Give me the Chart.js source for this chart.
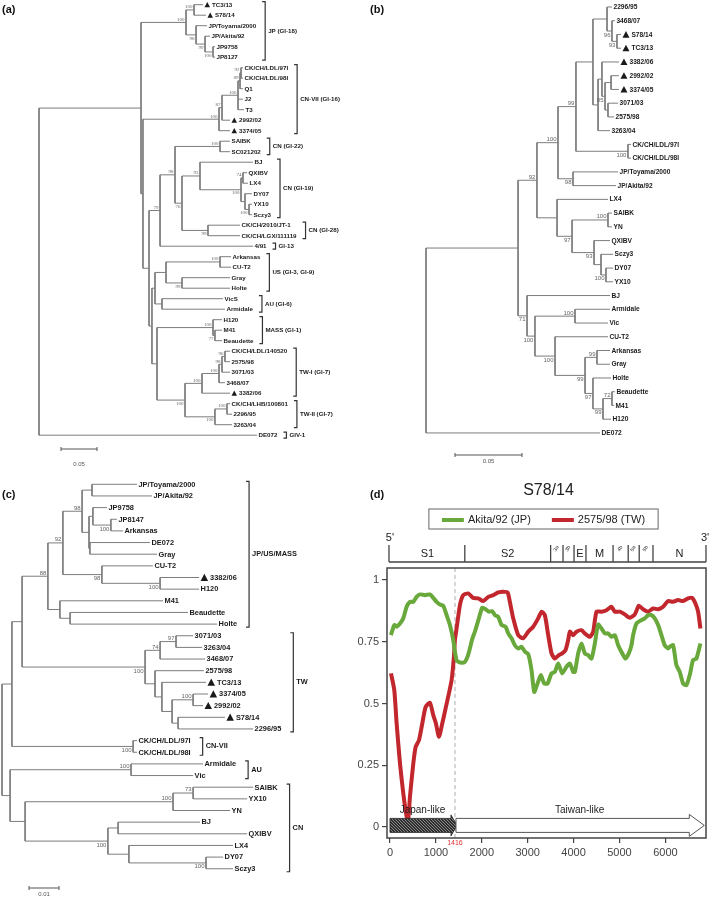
<!DOCTYPE html>
<html>
<head>
<meta charset="utf-8">
<script src="https://cdn.jsdelivr.net/npm/chart.js@4.4.1/dist/chart.umd.min.js"></script>
<style>
  body { margin: 0; background: #fff; width: 709px; height: 897px; position: relative; overflow: hidden; }
  canvas { position: absolute; }
</style>
</head>
<body>
<canvas id="treeA" width="355" height="470" style="left:0;top:0"></canvas>
<canvas id="treeB" width="354" height="470" style="left:355px;top:0"></canvas>
<canvas id="treeC" width="355" height="427" style="left:0;top:470px"></canvas>
<canvas id="simPlot" width="354" height="427" style="left:355px;top:470px"></canvas>
<script>
// ---- tree (a): whole genome / S1 tree, tips top to bottom ----
const treeA_tips = ['TC3/13', 'S78/14', 'JP/Toyama/2000', 'JP/Akita/92', 'JP9758', 'JP8127',
  'CK/CH/LDL/97I', 'CK/CH/LDL/98I', 'Q1', 'J2', 'T3', '2992/02', '3374/05', 'SAIBK', 'SC021202',
  'BJ', 'QXIBV', 'LX4', 'DY07', 'YX10', 'Sczy3', 'CK/CH/2010/JT-1', 'CK/CH/LGX/111119', '4/91',
  'Arkansas', 'CU-T2', 'Gray', 'Holte', 'VicS', 'Armidale', 'H120', 'M41', 'Beaudette',
  'CK/CH/LDL/140520', '2575/98', '3071/03', '3468/07', '3382/06', 'CK/CH/LHB/100801', '2296/95',
  '3263/04', 'DE072'];
const treeA_tipDepth = [0.2278, 0.2319, 0.2333, 0.2375, 0.2444, 0.2444, 0.2833, 0.2833, 0.2833, 0.2833,
  0.2847, 0.2653, 0.2653, 0.2653, 0.2653, 0.2972, 0.2889, 0.2903, 0.2958, 0.2958, 0.2958, 0.2792,
  0.2792, 0.2972, 0.2667, 0.2667, 0.2653, 0.2653, 0.2556, 0.2583, 0.2542, 0.2542, 0.2542, 0.2653,
  0.2653, 0.2653, 0.2583, 0.2653, 0.2653, 0.2681, 0.2681, 0.3028];
const treeA_tipParent = [3, 3, 4, 5, 6, 6, 12, 12, 11, 10, 10, 9, 8, 16, 16, 18, 20, 20, 21, 22, 22, 23,
  23, 14, 27, 27, 28, 28, 29, 29, 31, 32, 32, 37, 37, 36, 35, 34, 39, 39, 38, 0];
const treeA_nodeDepth = [0, 0.1417, 0.2042, 0.2153, 0.2181, 0.2306, 0.2417, 0.1444, 0.25, 0.2542, 0.2764,
  0.2792, 0.2806, 0.1528, 0.1681, 0.1889, 0.2514, 0.1986, 0.2236, 0.2806, 0.2833, 0.2861, 0.2917,
  0.2347, 0.1569, 0.1611, 0.1764, 0.2514, 0.1986, 0.1708, 0.1639, 0.2417, 0.2444, 0.2028, 0.2264,
  0.25, 0.2542, 0.2583, 0.2444, 0.2611];
const treeA_nodeParent = [-1, 0, 1, 2, 2, 4, 5, 1, 7, 8, 9, 10, 11, 7, 13, 14, 15, 15, 17, 18, 19, 19, 21,
  17, 13, 24, 25, 26, 26, 25, 24, 30, 31, 30, 33, 34, 35, 36, 33, 38];
const treeA_support = ['', '', '100', '100', '98', '99', '100', '', '100', '87', '100', '89', '92', '',
  '79', '98', '100', '76', '93', '100', '74', '', '100', '99', '', '', '', '100', '99', '', '', '100',
  '77', '100', '100', '100', '98', '96', '100', '100'];
const treeA_groups = [['JP (GI-18)', 0, 5], ['CN-VII (GI-16)', 6, 12], ['CN (GI-22)', 13, 14],
  ['CN (GI-19)', 15, 20], ['CN (GI-28)', 21, 22], ['GI-13', 23, 23], ['US (GI-3, GI-9)', 24, 27],
  ['AU (GI-6)', 28, 29], ['MASS (GI-1)', 30, 32], ['TW-I (GI-7)', 33, 37], ['TW-II (GI-7)', 38, 40],
  ['GIV-1', 41, 41]];

// ---- tree (b) ----
const treeB_tips = ['2296/95', '3468/07', 'S78/14', 'TC3/13', '3382/06', '2992/02', '3374/05', '3071/03',
  '2575/98', '3263/04', 'CK/CH/LDL/97I', 'CK/CH/LDL/98I', 'JP/Toyama/2000', 'JP/Akita/92', 'LX4',
  'SAIBK', 'YN', 'QXIBV', 'Sczy3', 'DY07', 'YX10', 'BJ', 'Armidale', 'Vic', 'CU-T2', 'Arkansas',
  'Gray', 'Holte', 'Beaudette', 'M41', 'H120', 'DE072'];
const treeB_tipDepth = [0.1388, 0.1410, 0.1455, 0.1455, 0.1440, 0.1440, 0.1440, 0.1433, 0.1403, 0.1373,
  0.1530, 0.1530, 0.1433, 0.1418, 0.1358, 0.1388, 0.1388, 0.1373, 0.1396, 0.1396, 0.1396, 0.1373,
  0.1373, 0.1358, 0.1358, 0.1373, 0.1373, 0.1381, 0.1410, 0.1403, 0.1381, 0.1299];
const treeB_tipParent = [6, 7, 8, 8, 10, 12, 12, 13, 13, 9, 14, 14, 15, 15, 16, 18, 18, 19, 20, 21, 21,
  22, 24, 24, 25, 27, 27, 28, 30, 30, 29, 0];
const treeB_nodeDepth = [0, 0.0687, 0.0828, 0.0985, 0.1119, 0.1246, 0.1351, 0.1388, 0.1425, 0.1284,
  0.1313, 0.1336, 0.1381, 0.1358, 0.1507, 0.1097, 0.0978, 0.1090, 0.1358, 0.1254, 0.1306, 0.1343,
  0.0754, 0.0813, 0.1112, 0.0963, 0.1187, 0.1276, 0.1246, 0.1321, 0.1388];
const treeB_nodeParent = [-1, 0, 1, 2, 3, 4, 5, 6, 7, 5, 9, 10, 11, 11, 4, 3, 2, 16, 17, 17, 19, 20, 1,
  22, 23, 23, 25, 26, 26, 28, 29];
const treeB_support = ['', '', '92', '100', '99', '', '', '96', '93', '', '', '85', '', '', '100', '98',
  '', '97', '100', '93', '', '100', '71', '100', '100', '100', '99', '99', '97', '99', '72'];

// ---- tree (c) ----
const treeC_tips = ['JP/Toyama/2000', 'JP/Akita/92', 'JP9758', 'JP8147', 'Arkansas', 'DE072', 'Gray',
  'CU-T2', '3382/06', 'H120', 'M41', 'Beaudette', 'Holte', '3071/03', '3263/04', '3468/07', '2575/98',
  'TC3/13', '3374/05', '2992/02', 'S78/14', '2296/95', 'CK/CH/LDL/97I', 'CK/CH/LDL/98I', 'Armidale',
  'Vic', 'SAIBK', 'YX10', 'YN', 'BJ', 'QXIBV', 'LX4', 'DY07', 'Sczy3'];
const treeC_tipDepth = [0.0450, 0.0500, 0.0350, 0.0383, 0.0403, 0.0493, 0.0517, 0.0503, 0.0657, 0.0657,
  0.0537, 0.0620, 0.0717, 0.0637, 0.0667, 0.0677, 0.0673, 0.0680, 0.0687, 0.0670, 0.0743, 0.0837,
  0.0450, 0.0450, 0.0670, 0.0637, 0.0837, 0.0817, 0.0760, 0.0660, 0.0817, 0.0770, 0.0737, 0.0770];
const treeC_tipParent = [6, 6, 8, 9, 9, 10, 10, 11, 12, 12, 13, 14, 14, 17, 17, 16, 18, 19, 21, 21, 22,
  22, 23, 23, 25, 25, 28, 28, 27, 30, 30, 31, 32, 32];
const treeC_nodeDepth = [0, 0.0033, 0.0067, 0.0153, 0.0203, 0.0267, 0.0300, 0.0290, 0.0303, 0.0363,
  0.0293, 0.0333, 0.0527, 0.0193, 0.0227, 0.0477, 0.0527, 0.0580, 0.0510, 0.0533, 0.0567, 0.0637,
  0.0587, 0.0437, 0.0027, 0.0430, 0.0077, 0.0570, 0.0637, 0.0353, 0.0387, 0.0423, 0.0680];
const treeC_nodeParent = [-1, 0, 1, 2, 3, 4, 5, 5, 7, 8, 7, 4, 11, 3, 13, 2, 15, 16, 15, 18, 19, 20, 20,
  1, 0, 24, 24, 26, 27, 26, 29, 29, 31];
const treeC_support = ['', '', '', '88', '92', '98', '', '', '', '100', '', '98', '100', '', '', '100',
  '74', '97', '', '', '', '100', '', '100', '', '100', '', '100', '73', '100', '', '', '100'];
const treeC_groups = [['JP/US/MASS', 0, 12], ['TW', 13, 21], ['CN-VII', 22, 23], ['AU', 24, 25],
  ['CN', 26, 33]];

const markedStrains = ['TC3/13', 'S78/14', '2992/02', '3374/05', '3382/06'];

// ---- (d) similarity plot of S78/14 ----
const akitaPos = [20, 94, 145, 218, 290, 363, 435, 508, 580, 653, 762, 871, 943, 1016, 1089, 1161, 1234,
  1306, 1379, 1415, 1451, 1488, 1560, 1633, 1690, 1741, 1790, 1850, 1937, 2010, 2083, 2155, 2228, 2286,
  2358, 2431, 2518, 2576, 2649, 2721, 2794, 2866, 2939, 3012, 3084, 3142, 3215, 3287, 3360, 3433, 3520,
  3592, 3665, 3752, 3846, 3919, 3991, 4028, 4100, 4173, 4245, 4318, 4391, 4463, 4536, 4608, 4681, 4753,
  4826, 4898, 4971, 5044, 5131, 5203, 5261, 5297, 5370, 5479, 5552, 5624, 5697, 5769, 5842, 5914, 5987,
  6059, 6096, 6168, 6241, 6313, 6386, 6458, 6531, 6603, 6676, 6763];
const akitaSim = [0.777, 0.818, 0.811, 0.824, 0.845, 0.892, 0.912, 0.912, 0.932, 0.942, 0.939, 0.942,
  0.928, 0.912, 0.901, 0.896, 0.858, 0.818, 0.757, 0.709, 0.676, 0.669, 0.665, 0.669, 0.69, 0.723, 0.76,
  0.791, 0.845, 0.888, 0.882, 0.872, 0.874, 0.858, 0.851, 0.818, 0.811, 0.784, 0.764, 0.736, 0.723, 0.73,
  0.71, 0.70, 0.635, 0.547, 0.581, 0.615, 0.581, 0.581, 0.622, 0.628, 0.662, 0.622, 0.649, 0.662, 0.628,
  0.628, 0.703, 0.743, 0.703, 0.696, 0.682, 0.743, 0.820, 0.804, 0.784, 0.784, 0.770, 0.777, 0.736,
  0.709, 0.682, 0.703, 0.736, 0.777, 0.824, 0.838, 0.845, 0.858, 0.858, 0.845, 0.818, 0.777, 0.736,
  0.723, 0.730, 0.736, 0.655, 0.628, 0.581, 0.574, 0.615, 0.676, 0.682, 0.743];
const twPos = [22, 94, 145, 218, 290, 363, 399, 435, 508, 559, 631, 704, 776, 871, 943, 1001, 1067, 1139,
  1212, 1284, 1343, 1393, 1415, 1451, 1524, 1596, 1705, 1814, 1923, 2032, 2141, 2250, 2358, 2467, 2562,
  2612, 2685, 2794, 2903, 3012, 3120, 3229, 3302, 3374, 3447, 3520, 3592, 3680, 3752, 3824, 3882, 3919,
  3991, 4064, 4173, 4245, 4354, 4427, 4499, 4608, 4717, 4826, 4898, 5007, 5116, 5225, 5334, 5421, 5515,
  5624, 5733, 5842, 5951, 6059, 6168, 6277, 6386, 6495, 6582, 6655, 6713, 6763];
const twSim = [0.622, 0.554, 0.419, 0.257, 0.135, 0.041, 0.034, 0.122, 0.257, 0.324, 0.351, 0.419, 0.486,
  0.503, 0.453, 0.419, 0.365, 0.419, 0.480, 0.541, 0.595, 0.689, 0.757, 0.804, 0.899, 0.939, 0.946,
  0.928, 0.926, 0.915, 0.932, 0.939, 0.950, 0.953, 0.950, 0.912, 0.845, 0.777, 0.764, 0.791, 0.811,
  0.845, 0.872, 0.858, 0.777, 0.703, 0.682, 0.696, 0.703, 0.716, 0.757, 0.791, 0.777, 0.791, 0.797,
  0.784, 0.770, 0.791, 0.872, 0.872, 0.878, 0.892, 0.872, 0.872, 0.861, 0.847, 0.861, 0.896, 0.882,
  0.872, 0.885, 0.882, 0.892, 0.915, 0.912, 0.919, 0.915, 0.926, 0.928, 0.905, 0.872, 0.804];
const xTicks = [0, 1000, 2000, 3000, 4000, 5000, 6000];
const yTicks = [0, 0.25, 0.5, 0.75, 1];
const genes = ['S1', 'S2', '3a', '3b', 'E', 'M', '4b', '5a', '5b', 'N'];
const geneStart = [0, 1630, 3500, 3770, 4010, 4270, 4860, 5190, 5430, 5730];
const genomeEnd = 6885;
const breakpoint = 1416;
const regionNames = ['Japan-like', 'Taiwan-like'];
const regionStart = [0, 1416];
const regionEnd = [1416, 6848];

const FONT = '"Liberation Sans", Arial, sans-serif';
Chart.defaults.font.family = FONT;

function buildTree(tipDepth, tipParent, nodeDepth, nodeParent) {
  const kids = nodeDepth.map(() => []);
  tipDepth.forEach((d, i) => kids[tipParent[i]].push({ x: d, y: i }));
  const nodeY = new Array(nodeDepth.length);
  const segs = [];
  // parents always have a smaller index than their children
  for (let n = nodeDepth.length - 1; n >= 0; n--) {
    const ys = kids[n].map(k => k.y);
    const lo = Math.min(...ys), hi = Math.max(...ys);
    nodeY[n] = (lo + hi) / 2;
    segs.push({ x: nodeDepth[n], y: lo }, { x: nodeDepth[n], y: hi }, { x: null, y: null });
    kids[n].forEach(k => segs.push({ x: nodeDepth[n], y: k.y }, { x: k.x, y: k.y }, { x: null, y: null }));
    if (nodeParent[n] >= 0) kids[nodeParent[n]].push({ x: nodeDepth[n], y: nodeY[n] });
  }
  return { nodeY, segs };
}

function treePanel(id, d, look) {
  const canvas = document.getElementById(id);
  const W = canvas.width, H = canvas.height;
  const tree = buildTree(d.tipDepth, d.tipParent, d.nodeDepth, d.nodeParent);

  const labels = {
    id: 'treeLabels',
    afterDatasetsDraw(chart) {
      const ctx = chart.ctx;
      const sx = v => chart.scales.x.getPixelForValue(v);
      const sy = v => chart.scales.y.getPixelForValue(v);
      ctx.save();
      ctx.textAlign = 'left';
      ctx.textBaseline = 'middle';
      ctx.font = 'bold 11px ' + FONT;
      ctx.fillStyle = '#111';
      ctx.fillText(look.letter, look.letterAt[0], look.letterAt[1]);

      // bootstrap values, left of the node
      ctx.font = look.supFont;
      ctx.fillStyle = '#666';
      ctx.textAlign = 'right';
      d.support.forEach((s, n) => {
        if (!s) return;
        const p = d.nodeParent[n];
        const above = p < 0 || tree.nodeY[n] <= tree.nodeY[p];
        ctx.textBaseline = above ? 'bottom' : 'top';
        ctx.fillText(s, sx(d.nodeDepth[n]) - 1.5, sy(tree.nodeY[n]) + (above ? -0.3 : 0.8));
      });

      // tip names (with triangles for the new isolates)
      const ends = [];
      ctx.font = look.tipFont;
      ctx.fillStyle = '#1a1a1a';
      ctx.textAlign = 'left';
      ctx.textBaseline = 'middle';
      d.tips.forEach((name, i) => {
        let x = sx(d.tipDepth[i]) + 1.5;
        const y = sy(i);
        if (markedStrains.includes(name)) {
          const s = look.tri;
          ctx.beginPath();
          ctx.moveTo(x, y + s * 0.45);
          ctx.lineTo(x + s, y + s * 0.45);
          ctx.lineTo(x + s / 2, y - s * 0.5);
          ctx.closePath();
          ctx.fill();
          x += s + 2;
        }
        ctx.fillText(name, x, y + 0.3);
        ends.push(x + ctx.measureText(name).width);
      });

      // clade brackets
      ctx.strokeStyle = '#333';
      ctx.lineWidth = 1.2;
      ctx.font = look.groupFont;
      d.groups.forEach(([label, a, b]) => {
        const x = Math.max(...ends.slice(a, b + 1)) + look.gap;
        const y1 = sy(a) - look.pad, y2 = sy(b) + look.pad;
        ctx.beginPath();
        ctx.moveTo(x - 3, y1);
        ctx.lineTo(x, y1);
        ctx.lineTo(x, y2);
        ctx.lineTo(x - 3, y2);
        ctx.stroke();
        ctx.fillText(label, x + 3, (y1 + y2) / 2);
      });

      // scale bar
      const x0 = look.bar[0], yb = look.bar[1], len = sx(d.scaleBar) - sx(0);
      ctx.strokeStyle = '#555';
      ctx.lineWidth = 1;
      ctx.beginPath();
      ctx.moveTo(x0, yb - 2); ctx.lineTo(x0, yb + 2);
      ctx.moveTo(x0, yb); ctx.lineTo(x0 + len, yb);
      ctx.moveTo(x0 + len, yb - 2); ctx.lineTo(x0 + len, yb + 2);
      ctx.stroke();
      ctx.font = '6px ' + FONT;
      ctx.fillStyle = '#555';
      ctx.textAlign = 'center';
      ctx.textBaseline = 'top';
      ctx.fillText(String(d.scaleBar), x0 + len / 2, yb + look.bar[2]);
      ctx.restore();
    }
  };

  new Chart(canvas, {
    type: 'scatter',
    data: {
      datasets: [{
        data: tree.segs,
        showLine: true,
        spanGaps: false,
        borderColor: '#7d7d7d',
        borderWidth: 1,
        pointRadius: 0
      }]
    },
    options: {
      responsive: false,
      animation: false,
      events: [],
      layout: { padding: 0 },
      plugins: { legend: { display: false }, tooltip: { enabled: false } },
      scales: {
        x: { type: 'linear', display: false, min: -look.rootPx / look.ppu, max: (W - look.rootPx) / look.ppu },
        y: { type: 'linear', display: false, reverse: true, min: -look.top / look.step, max: (H - look.top) / look.step }
      }
    },
    plugins: [labels]
  });
}

treePanel('treeA', {
  tips: treeA_tips, tipDepth: treeA_tipDepth, tipParent: treeA_tipParent,
  nodeDepth: treeA_nodeDepth, nodeParent: treeA_nodeParent, support: treeA_support,
  groups: treeA_groups, scaleBar: 0.05
}, {
  rootPx: 39, ppu: 720, top: 4.7, step: 10.5, letter: '(a)', letterAt: [2, 10],
  tipFont: 'bold 6.2px ' + FONT, groupFont: 'bold 6.2px ' + FONT, supFont: '5px "Liberation Serif", serif',
  tri: 5.5, gap: 9, pad: 3, bar: [61, 449, 12]
});

treePanel('treeB', {
  tips: treeB_tips, tipDepth: treeB_tipDepth, tipParent: treeB_tipParent,
  nodeDepth: treeB_nodeDepth, nodeParent: treeB_nodeParent, support: treeB_support,
  groups: [], scaleBar: 0.05
}, {
  rootPx: 71, ppu: 1340, top: 7, step: 13.74, letter: '(b)', letterAt: [15, 10],
  tipFont: 'bold 6.6px ' + FONT, groupFont: 'bold 6.6px ' + FONT, supFont: '6px ' + FONT,
  tri: 7, gap: 8, pad: 3, bar: [100, 455, 3]
});

treePanel('treeC', {
  tips: treeC_tips, tipDepth: treeC_tipDepth, tipParent: treeC_tipParent,
  nodeDepth: treeC_nodeDepth, nodeParent: treeC_nodeParent, support: treeC_support,
  groups: treeC_groups, scaleBar: 0.01
}, {
  rootPx: 2, ppu: 3000, top: 14.3, step: 11.65, letter: '(c)', letterAt: [2, 25],
  tipFont: 'bold 7.4px ' + FONT, groupFont: 'bold 7.4px ' + FONT, supFont: '6px ' + FONT,
  tri: 7.5, gap: 12, pad: 3, bar: [29, 418, 3]
});

// ---- (d) ----
function arrowPath(ctx, x0, x1, yc, body, head, headLen) {
  ctx.beginPath();
  ctx.moveTo(x0, yc - body / 2);
  ctx.lineTo(x1 - headLen, yc - body / 2);
  ctx.lineTo(x1 - headLen, yc - head / 2);
  ctx.lineTo(x1, yc);
  ctx.lineTo(x1 - headLen, yc + head / 2);
  ctx.lineTo(x1 - headLen, yc + body / 2);
  ctx.lineTo(x0, yc + body / 2);
  ctx.closePath();
}

const hatch = (() => {
  const c = document.createElement('canvas');
  c.width = 3; c.height = 3;
  const g = c.getContext('2d');
  g.fillStyle = '#2e2e2e';
  g.fillRect(0, 0, 3, 3);
  g.fillStyle = '#8a8a8a';
  g.fillRect(0, 0, 1, 1); g.fillRect(1, 1, 1, 1); g.fillRect(2, 2, 1, 1);
  return c;
})();

const simDecor = {
  id: 'simDecor',
  beforeDatasetsDraw(chart) {
    const { ctx, chartArea: a } = chart;
    const bx = chart.scales.x.getPixelForValue(breakpoint);
    ctx.save();
    ctx.strokeStyle = '#c8c8c8';
    ctx.lineWidth = 1.5;
    ctx.setLineDash([4, 3]);
    ctx.beginPath();
    ctx.moveTo(bx, a.top);
    ctx.lineTo(bx, a.bottom);
    ctx.stroke();
    ctx.restore();
  },
  afterDatasetsDraw(chart) {
    const ctx = chart.ctx;
    const px = v => chart.scales.x.getPixelForValue(v);
    const yc = chart.scales.y.getPixelForValue(0) - 1.5;
    ctx.save();
    regionNames.forEach((name, i) => {
      const x0 = px(regionStart[i]), x1 = px(regionEnd[i]);
      if (i === 0) {
        arrowPath(ctx, x0, x1 + 2, yc, 14, 21, 6);
        ctx.fillStyle = ctx.createPattern(hatch, 'repeat');
        ctx.fill();
        ctx.strokeStyle = '#222';
        ctx.lineWidth = 0.8;
        ctx.stroke();
      } else {
        arrowPath(ctx, x0 + 1, x1, yc, 14, 22, 15);
        ctx.fillStyle = '#fff';
        ctx.fill();
        ctx.strokeStyle = '#555';
        ctx.lineWidth = 1;
        ctx.stroke();
      }
      ctx.fillStyle = '#222';
      ctx.font = '10px ' + FONT;
      ctx.textAlign = 'center';
      ctx.textBaseline = 'middle';
      ctx.fillText(name, (x0 + x1) / 2, yc - 15);
    });
    ctx.restore();
  },
  afterDraw(chart) {
    const { ctx, chartArea: a } = chart;
    const px = v => chart.scales.x.getPixelForValue(v);
    ctx.save();
    // plot frame
    ctx.strokeStyle = '#444';
    ctx.lineWidth = 1.5;
    ctx.strokeRect(a.left, a.top, a.right - a.left, a.bottom - a.top);

    // panel letter and title
    ctx.fillStyle = '#111';
    ctx.font = 'bold 11px ' + FONT;
    ctx.textAlign = 'left';
    ctx.textBaseline = 'middle';
    ctx.fillText('(d)', 15, 25);
    ctx.font = '16px ' + FONT;
    ctx.fillStyle = '#222';
    ctx.textAlign = 'center';
    ctx.fillText('S78/14', (a.left + a.right) / 2 + 2, 21);

    // legend box
    ctx.font = '11px ' + FONT;
    const sets = chart.data.datasets;
    const widths = sets.map(s => 26 + ctx.measureText(s.label).width);
    const total = widths.reduce((p, w) => p + w, 0) + 21 * (sets.length - 1);
    let lx = (a.left + a.right) / 2 - total / 2 - 3;
    ctx.strokeStyle = '#666';
    ctx.lineWidth = 1;
    ctx.strokeRect(lx - 13, 39, total + 26, 20);
    ctx.textAlign = 'left';
    sets.forEach((s, i) => {
      ctx.strokeStyle = s.borderColor;
      ctx.lineWidth = 4;
      ctx.beginPath();
      ctx.moveTo(lx, 50);
      ctx.lineTo(lx + 22, 50);
      ctx.stroke();
      ctx.fillStyle = '#222';
      ctx.fillText(s.label, lx + 26, 49.5);
      lx += widths[i] + 21;
    });

    // genome map
    const gy = a.top - 6, gt = gy - 17;
    ctx.strokeStyle = '#444';
    ctx.lineWidth = 1.3;
    ctx.beginPath();
    ctx.moveTo(px(geneStart[0]) - 1, gy);
    ctx.lineTo(a.right, gy);
    geneStart.concat([genomeEnd]).forEach(g => {
      const x = Math.min(px(g), a.right) - (g === 0 ? 1 : 0);
      ctx.moveTo(x, gt);
      ctx.lineTo(x, gy);
    });
    ctx.stroke();
    ctx.fillStyle = '#222';
    genes.forEach((g, i) => {
      const x0 = px(geneStart[i]);
      const x1 = Math.min(px(i + 1 < genes.length ? geneStart[i + 1] : genomeEnd), a.right);
      const mid = (x0 + x1) / 2;
      if (/^[0-9]/.test(g)) {
        ctx.save();
        ctx.translate(mid - 2, gt + 6);
        ctx.rotate(-Math.PI / 3);
        ctx.font = '5px ' + FONT;
        ctx.textAlign = 'left';
        ctx.textBaseline = 'middle';
        ctx.fillText(g, 0, 0);
        ctx.restore();
      } else {
        ctx.font = '11px ' + FONT;
        ctx.textAlign = 'center';
        ctx.textBaseline = 'middle';
        ctx.fillText(g, mid, gy - 8.5);
      }
    });
    ctx.font = '11px ' + FONT;
    ctx.textAlign = 'center';
    ctx.textBaseline = 'middle';
    ctx.fillText("5'", px(0), gt - 7);
    ctx.fillText("3'", a.right - 1, gt - 7);

    // breakpoint position
    ctx.fillStyle = '#e03030';
    ctx.font = '7px ' + FONT;
    ctx.fillText(String(breakpoint), px(breakpoint), a.bottom + 5.5);
    ctx.restore();
  }
};

new Chart(document.getElementById('simPlot'), {
  type: 'line',
  data: {
    datasets: [
      {
        label: 'Akita/92 (JP)',
        data: akitaPos.map((x, i) => ({ x, y: akitaSim[i] })),
        borderColor: '#69a83b',
        borderWidth: 4,
        borderJoinStyle: 'round',
        pointRadius: 0,
        tension: 0.2
      },
      {
        label: '2575/98 (TW)',
        data: twPos.map((x, i) => ({ x, y: twSim[i] })),
        borderColor: '#c1272d',
        borderWidth: 4,
        borderJoinStyle: 'round',
        pointRadius: 0,
        tension: 0.2
      }
    ]
  },
  options: {
    responsive: false,
    animation: false,
    events: [],
    layout: { padding: { top: 98, right: 3, left: 0, bottom: 0 } },
    plugins: { legend: { display: false }, tooltip: { enabled: false } },
    scales: {
      x: {
        type: 'linear',
        min: -65,
        max: 6885,
        afterBuildTicks: s => { s.ticks = xTicks.map(v => ({ value: v })); },
        afterFit: s => { s.height = 59; },
        border: { display: false },
        grid: { display: true, drawOnChartArea: false, drawTicks: true, tickLength: 5, color: '#444', lineWidth: 1.2 },
        ticks: { callback: v => String(v), color: '#444', font: { size: 11 }, padding: 3, maxRotation: 0 }
      },
      y: {
        type: 'linear',
        min: -0.045,
        max: 1.049,
        afterBuildTicks: s => { s.ticks = yTicks.map(v => ({ value: v })); },
        afterFit: s => { s.width = 32; },
        border: { display: false },
        grid: { display: true, drawOnChartArea: false, drawTicks: true, tickLength: 5, color: '#444', lineWidth: 1.2 },
        ticks: { callback: v => String(v), color: '#444', font: { size: 11 }, padding: 3 }
      }
    }
  },
  plugins: [simDecor]
});
</script>
</body>
</html>
